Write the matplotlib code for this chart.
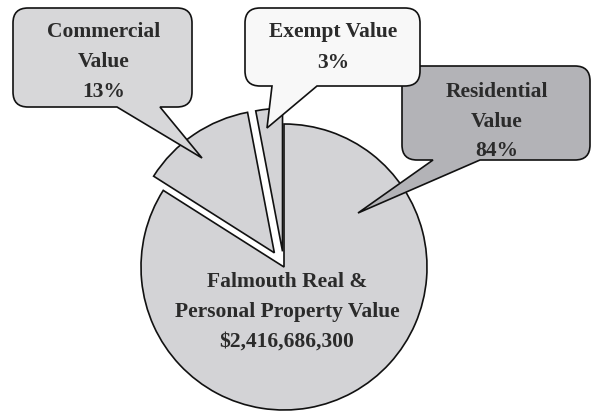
import matplotlib
matplotlib.use("Agg")
import matplotlib.pyplot as plt
from matplotlib.path import Path
from matplotlib.patches import PathPatch

# ---- data ----
categories = ["Residential", "Commercial", "Exempt"]
shares = [84, 13, 3]
callout_lines = {
    "Residential": ["Residential", "Value", "84%"],
    "Commercial": ["Commercial", "Value", "13%"],
    "Exempt": ["Exempt Value", "3%"],
}
total_value = 2416686300
center_lines = ["Falmouth Real &", "Personal Property Value", f"${total_value:,}"]

# ---- style ----
W, H, DPI = 592, 411, 100
pie_cx, pie_cy, pie_r = 284, 267, 143      # pixel layout of the pie
explode = [0, 0.12, 0.11]
slice_color = "#d3d3d6"
edge = "#111111"
text_color = "#2b2b2b"
font = dict(family="Liberation Serif", weight="bold", color=text_color)
fs = 15.5

fig = plt.figure(figsize=(W / DPI, H / DPI), dpi=DPI)
fig.patch.set_facecolor("white")

# pie axes: 1 data unit = pie_r pixels
ax = fig.add_axes([0, 0, 1, 1])
ax.pie(shares, explode=explode, startangle=90, counterclock=False,
       colors=[slice_color] * 3,
       wedgeprops=dict(edgecolor=edge, linewidth=1.2))
ax.set_aspect("equal")
ax.set_xlim(-pie_cx / pie_r, (W - pie_cx) / pie_r)
ax.set_ylim(-(H - pie_cy) / pie_r, pie_cy / pie_r)
ax.axis("off")

# overlay axes in pixel coordinates (y downward)
ov = fig.add_axes([0, 0, 1, 1])
ov.set_xlim(0, W)
ov.set_ylim(H, 0)
ov.patch.set_alpha(0)
ov.axis("off")


def bubble(x0, y0, x1, y1, tb1, tb2, tip, r, fc):
    verts = [(x0 + r, y0), (x1 - r, y0), (x1, y0), (x1, y0 + r),
             (x1, y1 - r), (x1, y1), (x1 - r, y1),
             (tb2, y1), tip, (tb1, y1),
             (x0 + r, y1), (x0, y1), (x0, y1 - r),
             (x0, y0 + r), (x0, y0), (x0 + r, y0), (x0 + r, y0)]
    codes = [Path.MOVETO, Path.LINETO, Path.CURVE3, Path.CURVE3,
             Path.LINETO, Path.CURVE3, Path.CURVE3,
             Path.LINETO, Path.LINETO, Path.LINETO,
             Path.LINETO, Path.CURVE3, Path.CURVE3,
             Path.LINETO, Path.CURVE3, Path.CURVE3, Path.CLOSEPOLY]
    ov.add_patch(PathPatch(Path(verts, codes), facecolor=fc, edgecolor=edge,
                           linewidth=1.2, zorder=3))


# callouts: box, tail, fill, text center x, baselines
callouts = {
    "Commercial": dict(box=(13, 8, 192, 107), tail=(117, 160, (202, 158)),
                       fc="#d7d7d9", cx=104, base=[37, 67, 97]),
    "Exempt": dict(box=(245, 8, 420, 86), tail=(272, 317, (267, 128)),
                   fc="#f8f8f8", cx=333, base=[37, 68]),
    "Residential": dict(box=(402, 66, 590, 160), tail=(433, 480, (358, 213)),
                        fc="#b3b3b7", cx=497, base=[97, 127, 156]),
}

for cat in categories:
    c = callouts[cat]
    x0, y0, x1, y1 = c["box"]
    tb1, tb2, tip = c["tail"]
    bubble(x0, y0, x1, y1, tb1, tb2, tip, 15, c["fc"])
    for line, yb in zip(callout_lines[cat], c["base"]):
        ov.text(c["cx"], yb, line, ha="center", va="baseline",
                fontsize=fs, zorder=4, **font)

for line, yb in zip(center_lines, [287, 317, 347]):
    ov.text(287, yb, line, ha="center", va="baseline", fontsize=fs,
            zorder=4, **font)

fig.savefig("out.png", dpi=DPI, facecolor="white")
